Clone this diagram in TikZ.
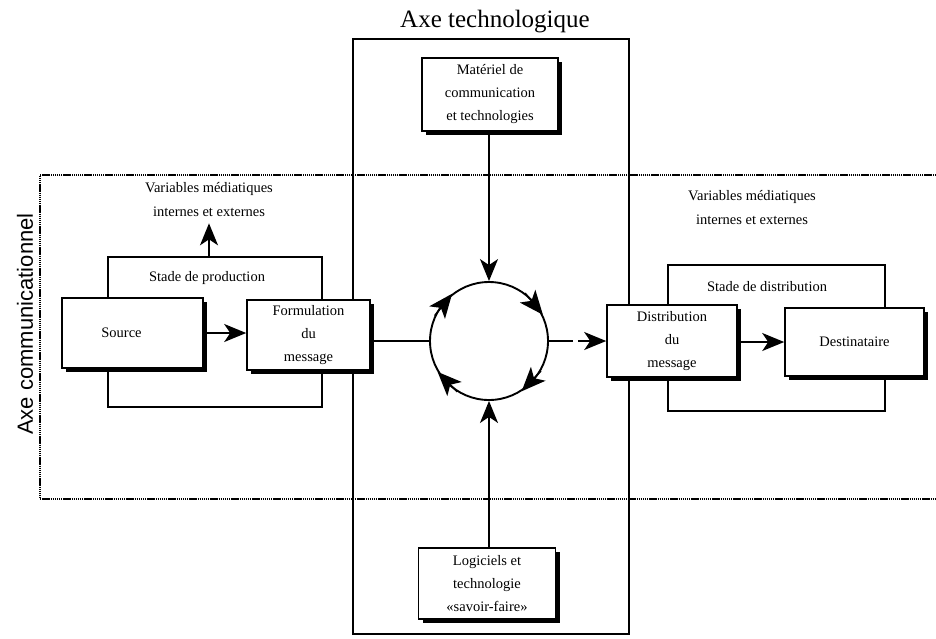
\documentclass[tikz,border=0pt]{standalone}
\usepackage{fontspec}
\setmainfont{Liberation Serif}
\newfontfamily\axesans{Liberation Sans}
\usetikzlibrary{arrows.meta,shadows}
\begin{document}
\begin{tikzpicture}[x=1pt,y=-1pt,
  bx/.style={draw, line width=1.6pt, fill=white, inner sep=0pt, align=center,
    font=\fontsize{14.5}{23}\selectfont,
    drop shadow={shadow xshift=4pt, shadow yshift=-4pt, fill=black, opacity=1}},
  frm/.style={draw, line width=1.6pt, inner sep=0pt},
  lbl/.style={align=center, inner sep=0pt, font=\fontsize{14.5}{24}\selectfont},
  arr/.style={line width=1.6pt, -{Stealth[length=22pt,width=18pt,inset=6pt]}},
  carr/.style={line width=1.6pt, -{Stealth[length=24pt,width=20pt,inset=6pt]}},
  ln/.style={line width=1.6pt},
  dots/.style={line width=1.8pt, dash pattern=on 1.4pt off 0.7pt},
]
\useasboundingbox (0,0) rectangle (936,638);
% communication axis frame (open on the right)
\draw[dots] (936,175) -- (40,175) -- (40,499) -- (936,499);
% technology axis frame
\draw[line width=1.9pt] (353,39) rectangle (629,634);

\node[font=\fontsize{25}{30}\selectfont, inner sep=0pt] (axet) at (495,22) {Axe technologique};
\node[font=\axesans\fontsize{22}{26}\selectfont, rotate=90, inner sep=0pt] (axec) at (25,324) {Axe communicationnel};

% stage frames
\node[frm, minimum width=214pt, minimum height=150pt] (prodf) at (215,332) {};
\node[frm, minimum width=217pt, minimum height=146pt] (distf) at (776.5,338) {};
\node[lbl] (prodl) at (207,278) {Stade de production};
\node[lbl] (distl) at (767,287) {Stade de distribution};
\node[lbl] (varl) at (209,200) {Variables médiatiques\\internes et externes};
\node[lbl] (varr) at (752,208) {Variables médiatiques\\internes et externes};

% boxes
\node[bx, minimum width=141pt, minimum height=70pt] (src) at (132.5,333) {Source\hspace*{22pt}};
\node[bx, minimum width=123pt, minimum height=70pt] (form) at (308.5,335) {Formulation\\du\\message};
\node[bx, minimum width=130pt, minimum height=72pt] (dist) at (672,341) {Distribution\\du\\message};
\node[bx, minimum width=139pt, minimum height=68pt] (dest) at (854.5,342) {Destinataire};
\node[bx, minimum width=136pt, minimum height=73pt] (mat) at (490,94.5) {Matériel de\\communication\\et technologies};
\node[bx, minimum width=137pt, minimum height=71pt] (log) at (487,583.5) {Logiciels et\\technologie\\«savoir-faire»};

% central cycle
\node[draw, circle, line width=1.9pt, minimum size=118pt, inner sep=0pt] (cyc) at (489,341) {};
\draw[carr] (cyc.155) -- (cyc.128);
\draw[carr] (cyc.53) -- (cyc.26);
\draw[carr] (cyc.330) -- (cyc.303);
\draw[carr] (cyc.238) -- (cyc.211);

% connectors
\draw[arr] (src.east) -- (src.east -| form.west);
\draw[ln] (form.east |- cyc.west) -- (cyc.west);
\draw[arr, dash pattern=on 24pt off 5pt on 60pt] (cyc.east) -- (cyc.east -| dist.west);
\draw[arr] (dist.east |- dest.west) -- (dest.west);
\draw[arr] (cyc.north |- mat.south) -- (cyc.north);
\draw[arr] (cyc.south |- log.north) -- (cyc.south);
\draw[arr, shorten >=6pt] (prodf.north -| varl.south) -- (varl.south);
\end{tikzpicture}
\end{document}
